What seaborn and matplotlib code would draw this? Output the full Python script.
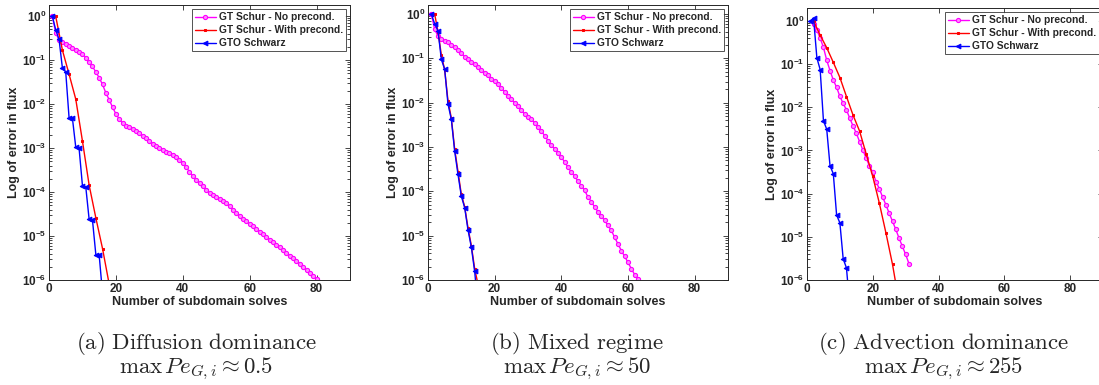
import numpy as np
import pandas as pd
import matplotlib
matplotlib.use("Agg")
import matplotlib.pyplot as plt
import seaborn as sns
from matplotlib.ticker import LogLocator, FixedLocator, NullFormatter

# --- data ---
# (a) Diffusion dominance
a_noprec_x = np.arange(1, 81)
a_noprec_y = [1.0, 0.42, 0.29, 0.26, 0.23, 0.21, 0.19, 0.17, 0.15, 0.14,
              0.115, 0.091, 0.072, 0.054, 0.040, 0.028, 0.018, 0.0126, 0.0085, 0.0060,
              0.0046, 0.0037, 0.0032, 0.0030, 0.0027, 0.0025, 0.0022, 0.0019, 0.0017, 0.00145,
              0.00126, 0.0011, 0.00098, 0.00089, 0.00081, 0.00076, 0.00069, 0.00063, 0.00055, 0.00047,
              0.00037, 0.00029, 0.00023, 0.000186, 0.000158, 0.000135, 0.000112, 9.5e-5, 8.5e-5, 7.8e-5,
              6.9e-5, 6.2e-5, 5.5e-5, 4.7e-5, 4.0e-5, 3.4e-5, 2.9e-5, 2.5e-5, 2.2e-5, 1.9e-5,
              1.66e-5, 1.45e-5, 1.26e-5, 1.1e-5, 9.5e-6, 8.3e-6, 7.2e-6, 6.3e-6, 5.5e-6, 4.8e-6,
              4.2e-6, 3.6e-6, 3.2e-6, 2.75e-6, 2.35e-6, 2.0e-6, 1.7e-6, 1.45e-6, 1.23e-6, 1.05e-6]
a_prec_x = [2, 4, 6, 8, 10, 12, 14, 16, 18]
a_prec_y = [1.0, 0.17, 0.048, 0.013, 0.00145, 1.44e-4, 2.6e-5, 5.2e-6, 8e-7]
a_schwarz_x = np.arange(1, 17)
a_schwarz_y = [1.0, 0.49, 0.30, 0.067, 0.054, 0.0049, 0.0048, 0.00105, 0.00098, 1.4e-4,
               1.3e-4, 2.4e-5, 2.3e-5, 3.8e-6, 3.7e-6, 5e-7]

# (b) Mixed regime
b_noprec_x = np.arange(1, 64)
b_noprec_y = [1.0, 0.45, 0.32, 0.28, 0.25, 0.23, 0.20, 0.18, 0.155, 0.13,
              0.11, 0.095, 0.083, 0.074, 0.065, 0.055, 0.047, 0.042, 0.035, 0.031,
              0.026, 0.022, 0.0175, 0.014, 0.012, 0.010, 0.0083, 0.0068, 0.0055, 0.0048,
              0.0042, 0.0035, 0.0028, 0.0023, 0.0018, 0.0014, 0.00112, 0.00091, 0.00074, 0.00059,
              0.00046, 0.00035, 0.00027, 0.00022, 0.00017, 0.000135, 0.000105, 7.4e-5, 5.9e-5, 4.4e-5,
              3.5e-5, 2.75e-5, 2.2e-5, 1.7e-5, 1.32e-5, 9.1e-6, 6.5e-6, 4.6e-6, 3.4e-6, 2.5e-6,
              1.8e-6, 1.32e-6, 1.05e-6]
b_prec_x = np.arange(2, 16)
b_prec_y = [1.0, 0.40, 0.12, 0.055, 0.011, 0.0045, 0.0009, 0.00028, 8.5e-5, 4.5e-5,
            1.5e-5, 6e-6, 1.8e-6, 8e-7]
b_schwarz_x = np.arange(1, 16)
b_schwarz_y = [1.0, 0.6, 0.42, 0.095, 0.057, 0.0093, 0.0042, 0.00081, 0.00024, 7.8e-5,
               4.3e-5, 1.35e-5, 5.5e-6, 1.56e-6, 2.5e-7]

# (c) Advection dominance
c_noprec_x = np.arange(2, 32)
c_noprec_y = [0.84, 0.62, 0.40, 0.245, 0.123, 0.071, 0.043, 0.029, 0.018, 0.0123,
              0.0087, 0.0056, 0.0037, 0.0025, 0.0016, 0.00102, 0.00066, 0.00044, 0.00031, 0.00019,
              0.000129, 8.3e-5, 5.5e-5, 3.5e-5, 2.3e-5, 1.48e-5, 9.3e-6, 6.0e-6, 3.9e-6, 2.4e-6]
c_prec_x = [2, 4, 6, 8, 10, 12, 14, 16, 18, 20, 22, 24, 26, 28]
c_prec_y = [1.0, 0.47, 0.24, 0.11, 0.049, 0.0178, 0.0066, 0.0028, 0.00083, 2.5e-4,
            6.0e-5, 1.23e-5, 2.3e-6, 3e-7]
c_schwarz_x = np.arange(1, 14)
c_schwarz_y = [1.0, 1.15, 0.14, 0.075, 0.0049, 0.0031, 0.00044, 0.00029, 3.2e-5, 2.1e-5,
               3.1e-6, 1.9e-6, 2.5e-7]

panels = [
    ((a_noprec_x, a_noprec_y), (a_prec_x, a_prec_y), (a_schwarz_x, a_schwarz_y), 1.8),
    ((b_noprec_x, b_noprec_y), (b_prec_x, b_prec_y), (b_schwarz_x, b_schwarz_y), 1.6),
    ((c_noprec_x, c_noprec_y), (c_prec_x, c_prec_y), (c_schwarz_x, c_schwarz_y), 2.0),
]
captions = ["(a)\\ Diffusion\\ dominance", "(b)\\ Mixed\\ regime", "(c)\\ Advection\\ dominance"]
pe_values = ["0.5", "50", "255"]
labels = ["GT Schur - No precond.", "GT Schur - With precond.", "GTO Schwarz"]

# --- style ---
sns.set_style("ticks")
plt.rcParams['font.family'] = ['Liberation Sans', 'DejaVu Sans']
plt.rcParams['font.weight'] = 'bold'
plt.rcParams['mathtext.fontset'] = 'custom'
plt.rcParams['mathtext.rm'] = 'Liberation Sans:bold'
plt.rcParams['mathtext.it'] = 'Liberation Sans:bold'
plt.rcParams['mathtext.bf'] = 'Liberation Sans:bold'

fig = plt.figure(figsize=(10.99, 3.85), dpi=100)
rects = [
    [49 / 1099, 1 - 280 / 385, 301 / 1099, 275 / 385],
    [428 / 1099, 1 - 280 / 385, 300 / 1099, 275 / 385],
    [807 / 1099, 1 - 280 / 385, 296 / 1099, 272 / 385],
]
caption_x = [196 / 1099, 577 / 1099, 944 / 1099]

for i, (noprec, prec, schwarz, ytop) in enumerate(panels):
    ax = fig.add_axes(rects[i])
    df1 = pd.DataFrame({"solves": noprec[0], "err": noprec[1]})
    df2 = pd.DataFrame({"solves": prec[0], "err": prec[1]})
    df3 = pd.DataFrame({"solves": schwarz[0], "err": schwarz[1]})

    sns.lineplot(data=df1, x="solves", y="err", ax=ax, color="#ff00ff", lw=1.0,
                 marker="o", ms=3.0, mfc="#ff88ff", mec="#ff00ff", mew=0.8,
                 label=labels[0], sort=False, estimator=None)
    sns.lineplot(data=df2, x="solves", y="err", ax=ax, color="#ff0000", lw=1.0,
                 marker="s", ms=1.8, mfc="#ff0000", mec="#ff0000",
                 label=labels[1], sort=False, estimator=None)
    sns.lineplot(data=df3, x="solves", y="err", ax=ax, color="#0000ff", lw=1.0,
                 marker="<", ms=3.4, mfc="#0000ff", mec="#0000ff",
                 label=labels[2], sort=False, estimator=None)

    ax.set_yscale("log")
    ax.set_xlim(0, 90)
    ax.set_ylim(1e-6, ytop)
    ax.xaxis.set_major_locator(FixedLocator([0, 20, 40, 60, 80]))
    ax.yaxis.set_major_locator(FixedLocator([1e-6, 1e-5, 1e-4, 1e-3, 1e-2, 1e-1, 1e0]))
    ax.set_yticklabels([r"$10^{-6}$", r"$10^{-5}$", r"$10^{-4}$", r"$10^{-3}$",
                        r"$10^{-2}$", r"$10^{-1}$", r"$10^{0}$"])
    ax.yaxis.set_minor_locator(LogLocator(base=10, subs=np.arange(2, 10), numticks=20))
    ax.yaxis.set_minor_formatter(NullFormatter())
    ax.tick_params(axis="both", which="both", direction="in", top=True, right=True,
                   labelsize=8.5, width=0.6, color="#262626")
    ax.tick_params(axis="both", which="major", length=3.5, pad=2)
    ax.tick_params(axis="y", which="minor", length=2)
    for sp in ax.spines.values():
        sp.set_linewidth(0.7)
        sp.set_color("#262626")
        sp.set_visible(True)

    ax.set_xlabel("Number of subdomain solves", fontsize=9, fontweight="bold", labelpad=1)
    ax.set_ylabel("Log of error in flux", fontsize=9, fontweight="bold", labelpad=1)

    leg = ax.legend(loc="upper right", fontsize=7.4, frameon=True, fancybox=False,
                    handlelength=2.0, handletextpad=0.3, labelspacing=0.3,
                    borderpad=0.3, borderaxespad=0.4)
    leg.get_frame().set_edgecolor("#262626")
    leg.get_frame().set_linewidth(0.7)
    for t in leg.get_texts():
        t.set_fontweight("bold")

    # sub-figure captions in Computer Modern, two tight lines
    fig.text(caption_x[i], 1 - 349 / 385, r"$\mathrm{" + captions[i] + "}$",
             ha="center", va="baseline", fontsize=16.5, math_fontfamily="cm")
    fig.text(caption_x[i], 1 - 373 / 385, r"$\max\, Pe_{G,i} \approx " + pe_values[i] + "$",
             ha="center", va="baseline", fontsize=16.5, math_fontfamily="cm")

fig.savefig("out.png", dpi=100)
